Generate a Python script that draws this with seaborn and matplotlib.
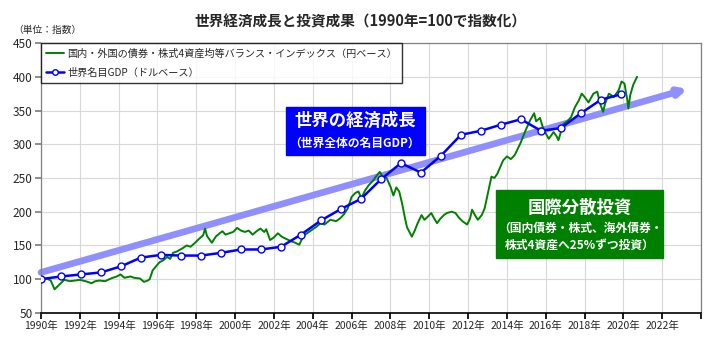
import numpy as np
import pandas as pd
import matplotlib
matplotlib.use('Agg')
import matplotlib.pyplot as plt
import seaborn as sns
from matplotlib.patches import Rectangle

sns.set_theme(style='whitegrid')
plt.rcParams['font.family'] = ['Noto Sans CJK JP', 'DejaVu Sans']

# 世界名目GDP（ドルベース）, 1990=100
gdp_years = list(range(1990, 2020))
gdp_values = [100, 104, 107, 110, 119, 132, 136, 135, 135, 139,
              144, 144, 148, 166, 187, 204, 219, 248, 272, 258,
              283, 314, 320, 329, 337, 320, 324, 346, 366, 374]

# 4資産均等バランス・インデックス（円ベース）
bal_dates = [1990.0, 1990.3, 1990.5, 1990.7, 1990.95, 1991.2, 1991.5, 1992.0, 1992.3, 1992.6,
             1992.8, 1993.0, 1993.3, 1993.6, 1993.9, 1994.1, 1994.3, 1994.6, 1994.8, 1995.1,
             1995.3, 1995.5, 1995.6, 1995.75, 1996.1, 1996.3, 1996.5, 1996.65, 1996.8, 1997.0,
             1997.3, 1997.5, 1997.7, 1997.9, 1998.15, 1998.35, 1998.45, 1998.55, 1998.7, 1998.8,
             1999.0, 1999.2, 1999.35, 1999.5, 1999.7, 1999.9, 2000.1, 2000.3, 2000.5, 2000.7,
             2000.9, 2001.1, 2001.3, 2001.5, 2001.6, 2001.8, 2002.0, 2002.2, 2002.4, 2002.6,
             2002.9, 2003.1, 2003.3, 2003.45, 2003.6, 2003.9, 2004.2, 2004.4, 2004.6, 2004.9,
             2005.2, 2005.4, 2005.6, 2005.8, 2006.0, 2006.2, 2006.35, 2006.5, 2006.7, 2006.9,
             2007.1, 2007.3, 2007.45, 2007.6, 2007.8, 2008.0, 2008.15, 2008.3, 2008.45, 2008.6,
             2008.75, 2008.85, 2009.1, 2009.25, 2009.4, 2009.6, 2009.75, 2009.9, 2010.1, 2010.25,
             2010.4, 2010.55, 2010.75, 2010.9, 2011.15, 2011.35, 2011.5, 2011.7, 2011.95, 2012.1,
             2012.2, 2012.35, 2012.5, 2012.7, 2012.85, 2013.0, 2013.2, 2013.35, 2013.5, 2013.65,
             2013.8, 2014.0, 2014.2, 2014.4, 2014.7, 2014.95, 2015.2, 2015.4, 2015.5, 2015.7,
             2015.85, 2016.0, 2016.15, 2016.4, 2016.55, 2016.65, 2016.9, 2017.1, 2017.3, 2017.5,
             2017.7, 2017.85, 2018.0, 2018.2, 2018.45, 2018.65, 2018.8, 2018.95, 2019.05, 2019.25,
             2019.5, 2019.75, 2019.9, 2020.05, 2020.2, 2020.25, 2020.35, 2020.5, 2020.7]
bal_values = [100, 101, 98, 85, 92, 99, 97, 99, 97, 94,
              97, 98, 97, 101, 104, 107, 102, 104, 102, 101,
              96, 98, 100, 113, 125, 128, 133, 130, 139, 141,
              146, 150, 148, 153, 160, 165, 175, 164, 158, 154,
              163, 168, 171, 166, 168, 170, 176, 172, 170, 172,
              166, 171, 175, 170, 174, 158, 162, 168, 163, 160,
              156, 154, 151, 160, 166, 172, 178, 183, 181, 188,
              186, 190, 196, 205, 222, 228, 230, 220, 232, 240,
              246, 254, 259, 252, 250, 237, 224, 236, 230, 212,
              190, 177, 163, 172, 183, 195, 188, 192, 198, 190,
              183, 189, 195, 198, 200, 198, 192, 186, 181, 190,
              203, 195, 188, 195, 205, 225, 252, 250, 256, 266,
              276, 282, 278, 284, 302, 320, 336, 346, 334, 339,
              325, 316, 308, 318, 312, 306, 330, 334, 340, 355,
              365, 375, 370, 362, 375, 378, 360, 348, 360, 375,
              370, 380, 393, 390, 365, 353, 373, 388, 400]

# 成長トレンドの矢印（始点・終点）
trend_x = [1990.0, 2023.3]
trend_y = [110, 382]

x_ticks = list(range(1990, 2026, 2))
x_labels = [f'{y}年' if y <= 2022 else '' for y in x_ticks]
y_ticks = list(range(50, 451, 50))

bal_label = '国内・外国の債券・株式4資産均等バランス・インデックス（円ベース）'
gdp_label = '世界名目GDP（ドルベース）'

df_bal = pd.DataFrame({'year': bal_dates, 'value': bal_values})
# GDP points sit slightly to the right of the calendar grid in the original
df_gdp = pd.DataFrame({'year': gdp_years, 'value': gdp_values})
df_gdp['pos'] = 1990 + (df_gdp['year'] - 1990) * 1.03

fig = plt.figure(figsize=(7.14, 3.5), dpi=100)
ax = fig.add_axes([0.0574, 0.106, 0.9246, 0.771])

ax.annotate('', xy=(trend_x[1], trend_y[1]), xytext=(trend_x[0], trend_y[0]),
            arrowprops=dict(arrowstyle='-|>', lw=4.8, color='#8f8fff',
                            mutation_scale=11, shrinkA=0, shrinkB=0),
            zorder=1.5)

sns.lineplot(data=df_bal, x='year', y='value', ax=ax, color='#008000', lw=1.4,
             label=bal_label, zorder=3)
sns.lineplot(data=df_gdp, x='pos', y='value', ax=ax, color='#0000ff', lw=1.8,
             marker='o', markersize=5, markerfacecolor='white',
             markeredgecolor='#0000ff', markeredgewidth=1.0,
             label=gdp_label, zorder=4)

ax.set_xlim(1990, 2024)
ax.set_ylim(50, 450)
ax.set_xticks(x_ticks)
ax.set_xticklabels(x_labels, fontsize=7.5)
ax.set_yticks(y_ticks)
ax.set_yticklabels([str(v) for v in y_ticks], fontsize=8.5)
ax.set_xlabel('')
ax.set_ylabel('')
ax.grid(True, color='#d9d9d9', lw=0.8)
ax.set_facecolor('white')
for side in ['top', 'right', 'left']:
    ax.spines[side].set_color('#808080')
    ax.spines[side].set_linewidth(0.9)
ax.spines['bottom'].set_color('black')
ax.spines['bottom'].set_linewidth(1.2)
ax.tick_params(axis='x', bottom=True, length=4, color='black', pad=2)
ax.tick_params(axis='y', left=True, length=4, color='#808080', pad=2)

leg = ax.legend(loc='upper left', bbox_to_anchor=(0.0, 1.0), fontsize=7.3,
                frameon=True, fancybox=False, edgecolor='black',
                borderaxespad=0, handlelength=1.8, handletextpad=0.3,
                labelspacing=0.9, borderpad=0.5, markerscale=0.8)
leg.get_frame().set_linewidth(1.0)

fig.text(0.505, 0.94, '世界経済成長と投資成果（1990年=100で指数化）',
         ha='center', va='center', fontsize=10.5, fontweight='bold')
fig.text(0.018, 0.915, '（単位：指数）', ha='left', va='center', fontsize=7)

# 青いラベル
fig.patches.append(Rectangle((286 / 714, 1 - 155 / 350), 139 / 714, 48 / 350,
                             transform=fig.transFigure, color='#0000ff', zorder=5))
fig.text(355 / 714, 1 - 121 / 350, '世界の経済成長', ha='center', va='center',
         fontsize=12.5, fontweight='bold', color='white', zorder=6)
fig.text(355 / 714, 1 - 143 / 350, '（世界全体の名目GDP）', ha='center', va='center',
         fontsize=8.5, fontweight='bold', color='white', zorder=6)

# 緑のラベル
fig.patches.append(Rectangle((496 / 714, 1 - 258 / 350), 167 / 714, 68 / 350,
                             transform=fig.transFigure, color='#008000', zorder=5))
fig.text(580 / 714, 1 - 208 / 350, '国際分散投資', ha='center', va='center',
         fontsize=12.5, fontweight='bold', color='white', zorder=6)
fig.text(580 / 714, 1 - 228 / 350, '（国内債券・株式、海外債券・', ha='center', va='center',
         fontsize=8.5, fontweight='bold', color='white', zorder=6)
fig.text(580 / 714, 1 - 245 / 350, '株式4資産へ25%ずつ投資）', ha='center', va='center',
         fontsize=8.5, fontweight='bold', color='white', zorder=6)

fig.savefig('out.png', dpi=100, facecolor='white')
